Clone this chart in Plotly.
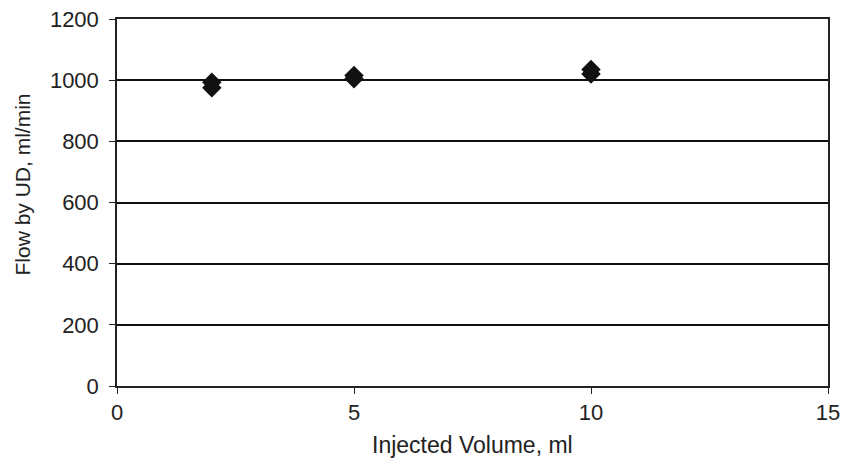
import plotly.graph_objects as go

x_vol = [2, 2, 5, 5, 10, 10]
flow = [993, 975, 1015, 1005, 1035, 1020]
x_ticks = [0, 5, 10, 15]
y_ticks = [0, 200, 400, 600, 800, 1000, 1200]

fig = go.Figure()
fig.add_trace(go.Scatter(
    x=x_vol, y=flow, mode="markers",
    marker=dict(symbol="diamond", size=15, color="#111111"),
    showlegend=False,
))

fam = "Liberation Sans, Arial, sans-serif"
tick_font = dict(family=fam, size=22, color="#222222")
fig.update_layout(
    width=847, height=464,
    margin=dict(l=117, r=19, t=19, b=78),
    plot_bgcolor="white", paper_bgcolor="white",
    font=tick_font,
    xaxis=dict(
        range=[0, 15], tickvals=x_ticks, showgrid=False, zeroline=False,
        showline=True, linecolor="#222222", linewidth=1.5, mirror=True,
        ticks="outside", ticklen=6, tickcolor="#222222",
        tickfont=tick_font, automargin=False,
    ),
    yaxis=dict(
        range=[0, 1200], tickvals=y_ticks, showgrid=True, gridcolor="#111111", gridwidth=1.8,
        zeroline=False, showline=True, linecolor="#222222", linewidth=1.5, mirror=True,
        ticks="outside", ticklen=6, tickcolor="#222222", ticklabelstandoff=6,
        tickfont=tick_font, automargin=False,
    ),
)
fig.add_annotation(
    text="Injected Volume, ml", xref="paper", yref="paper", x=0.5, y=0,
    xanchor="center", yanchor="middle", yshift=-59, showarrow=False,
    font=dict(family=fam, size=23, color="#222222"),
)
fig.add_annotation(
    text="Flow by UD, ml/min", xref="paper", yref="paper", x=0, y=0.5,
    xanchor="center", yanchor="middle", xshift=-95, yshift=18, textangle=-90,
    showarrow=False, font=dict(family=fam, size=21, color="#222222"),
)
fig.write_html("out.html", config={"displayModeBar": False},
               post_script="document.body.style.margin='0px';")
